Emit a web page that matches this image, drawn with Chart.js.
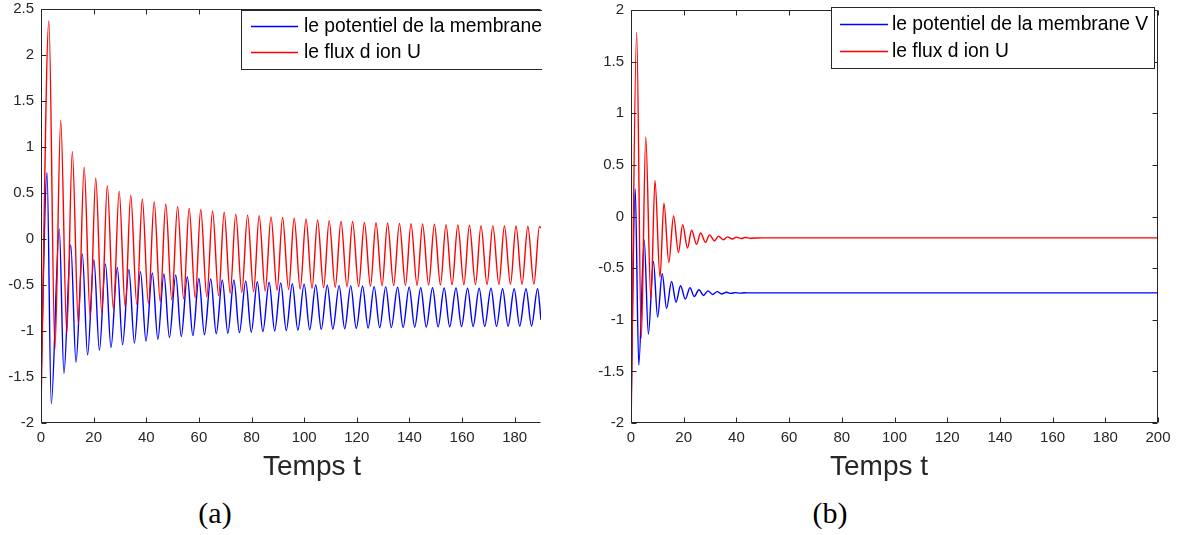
<!DOCTYPE html>
<html>
<head>
<meta charset="utf-8">
<script src="https://cdn.jsdelivr.net/npm/chart.js@4.4.1/dist/chart.umd.min.js"></script>
<style>
  body { margin: 0; background: #fff; width: 1178px; height: 535px; position: relative; overflow: hidden; }
  canvas { position: absolute; top: 0; }
  #chartA { left: 0; }
  #chartB { left: 590px; }
  .cap { position: absolute; top: 496px; font-family: "Liberation Serif", "DejaVu Serif", serif; font-size: 30px; color: #000; transform: translateX(-50%); }
</style>
</head>
<body>
<canvas id="chartA" width="542" height="490"></canvas>
<canvas id="chartB" width="582" height="490"></canvas>
<div class="cap" style="left:215px">(a)</div>
<div class="cap" style="left:830px">(b)</div>
<script>
// labels
const labelV = "le potentiel de la membrane V";
const labelU = "le flux d ion U";
const xTitle = "Temps t";

// tick positions
const xTicksA = [0, 20, 40, 60, 80, 100, 120, 140, 160, 180];
const xTicksB = [0, 20, 40, 60, 80, 100, 120, 140, 160, 180, 200];
const yTicksA = [-2, -1.5, -1, -0.5, 0, 0.5, 1, 1.5, 2, 2.5];
const yTicksB = [-2, -1.5, -1, -0.5, 0, 0.5, 1, 1.5, 2];

// (a) - sustained oscillations, extremes
const tU_a = [0, 3.0, 5.3, 7.5, 9.8, 11.9, 14.2, 16.4, 18.7, 20.8, 23.1, 25.2, 27.5, 29.7, 32.0, 34.1, 36.4, 38.5, 40.8,
  43.0, 45.3, 47.4, 49.7, 51.9, 54.2, 56.3, 58.6, 60.7, 63.0, 65.2, 67.5, 69.6, 71.9, 74.0, 76.3, 78.5, 80.8, 82.9, 85.2,
  87.4, 89.7, 91.8, 94.1, 96.2, 98.5, 100.7, 103.0, 105.1, 107.4, 109.5, 111.8, 114.0, 116.3, 118.4, 120.7, 122.9, 125.2,
  127.3, 129.6, 131.7, 134.0, 136.2, 138.5, 140.6, 142.9, 145.0, 147.3, 149.5, 151.8, 153.9, 156.2, 158.4, 160.7, 162.8,
  165.1, 167.2, 169.5, 171.7, 174.0, 176.1, 178.4, 180.5, 182.8, 185.0, 187.3, 189.4, 190];
const U_a = [-1.85, 2.37, -1.20, 1.29, -1.025, 0.95, -0.92, 0.78, -0.845, 0.66, -0.80, 0.58, -0.765, 0.52, -0.74, 0.475, -0.71, 0.435, -0.70,
  0.405, -0.68, 0.38, -0.66, 0.355, -0.65, 0.335, -0.64, 0.32, -0.627, 0.305, -0.616, 0.29, -0.59, 0.27, -0.58, 0.26, -0.573, 0.253, -0.565,
  0.24, -0.558, 0.235, -0.55, 0.225, -0.543, 0.217, -0.536, 0.207, -0.53, 0.2, -0.525, 0.19, -0.52, 0.19, -0.518, 0.18, -0.514,
  0.177, -0.51, 0.174, -0.507, 0.17, -0.504, 0.166, -0.502, 0.163, -0.5, 0.16, -0.499, 0.156, -0.498, 0.152, -0.497, 0.149,
  -0.496, 0.145, -0.495, 0.145, -0.494, 0.141, -0.493, 0.141, -0.492, 0.138, -0.491, 0.134, 0.12];

const tV_a = [0, 2.3, 3.9, 6.95, 8.7, 11.3, 13.3, 15.7, 17.7, 20.1, 22.2, 24.5, 26.6, 29.0, 31.0, 33.4, 35.5, 37.8, 39.9,
  42.3, 44.4, 46.7, 48.8, 51.2, 53.3, 55.6, 57.7, 60.0, 62.1, 64.5, 66.6, 68.9, 71.0, 73.3, 75.4, 77.8, 79.9, 82.2, 84.3,
  86.7, 88.8, 91.1, 93.2, 95.5, 97.6, 100.0, 102.1, 104.4, 106.5, 108.8, 110.9, 113.3, 115.4, 117.7, 119.8, 122.2, 124.3,
  126.6, 128.7, 131.0, 133.1, 135.5, 137.6, 139.9, 142.0, 144.3, 146.4, 148.8, 150.9, 153.2, 155.3, 157.7, 159.8, 162.1,
  164.2, 166.5, 168.6, 171.0, 173.1, 175.4, 177.5, 179.8, 181.9, 184.3, 186.4, 188.7, 190];
const V_a = [-1.5, 0.72, -1.79, 0.11, -1.46, -0.065, -1.34, -0.163, -1.26, -0.225, -1.21, -0.27, -1.18, -0.31, -1.15, -0.33, -1.13, -0.355, -1.11,
  -0.37, -1.09, -0.38, -1.07, -0.39, -1.06, -0.41, -1.05, -0.43, -1.04, -0.435, -1.03, -0.445, -1.025, -0.446, -1.018, -0.457, -1.014, -0.464, -1.007,
  -0.47, -1.0, -0.478, -0.996, -0.486, -0.99, -0.49, -0.986, -0.5, -0.982, -0.503, -0.978, -0.507, -0.975, -0.51, -0.971, -0.514, -0.967,
  -0.518, -0.965, -0.52, -0.963, -0.525, -0.961, -0.525, -0.959, -0.53, -0.957, -0.53, -0.955, -0.533, -0.954, -0.533, -0.952, -0.536,
  -0.951, -0.536, -0.95, -0.536, -0.949, -0.54, -0.948, -0.54, -0.947, -0.54, -0.946, -0.54, -0.88];

// (b) - damped oscillations towards the equilibrium
const tU_b = [0, 2.15, 3.9, 5.6, 7.55, 9.1, 11.0, 12.5, 14.35, 16.15, 18.0, 19.6, 21.45, 23.0, 24.9, 26.4, 28.3, 29.8,
  31.7, 33.2, 35.1, 36.6, 38.5, 40.0, 41.9, 43.4, 45.3, 50, 200];
const U_b = [-2.1, 1.785, -1.18, 0.77, -0.805, 0.35, -0.59, 0.13, -0.445, 0.005, -0.35, -0.08, -0.305, -0.133, -0.27, -0.16, -0.25, -0.178,
  -0.235, -0.19, -0.225, -0.197, -0.218, -0.2, -0.213, -0.204, -0.21, -0.207, -0.207];

const tV_b = [0, 1.6, 2.95, 5.0, 6.6, 8.5, 10.1, 11.85, 13.5, 15.4, 17.1, 18.8, 20.6, 22.4, 24.0, 25.8, 27.5, 29.2,
  31.0, 32.7, 34.4, 36.2, 37.9, 39.6, 41.4, 43.1, 45, 200];
const V_b = [-1.9, 0.27, -1.44, -0.226, -1.14, -0.435, -0.975, -0.555, -0.89, -0.63, -0.83, -0.67, -0.80, -0.69, -0.775, -0.71, -0.765, -0.72,
  -0.755, -0.728, -0.75, -0.733, -0.745, -0.737, -0.742, -0.739, -0.74, -0.74];

const FONT = '"Liberation Sans", Arial, sans-serif';
const INK = "#262626";

const pts = (ts, vs) => ts.map((t, i) => ({ x: t, y: vs[i] }));
const fmt = v => String(+Number(v).toFixed(2));

// matlab-like box, inward ticks, legend and x label
const matlabAxes = {
  id: "matlabAxes",
  afterDatasetsDraw(chart, args, o) {
    const { ctx, chartArea: a } = chart;
    const xs = chart.scales.x, ys = chart.scales.y;
    const L = Math.round(a.left) + 0.5, R = Math.round(a.right) - 0.5;
    const T = Math.round(a.top) + 0.5, B = Math.round(a.bottom) - 0.5;
    ctx.save();
    ctx.strokeStyle = INK;
    ctx.lineWidth = 1;
    ctx.beginPath();
    ctx.moveTo(R, T); ctx.lineTo(L, T); ctx.lineTo(L, B); ctx.lineTo(R, B);
    if (o.rightSide) { ctx.moveTo(R, T); ctx.lineTo(R, B); }
    xs.ticks.forEach(t => {
      const px = Math.round(xs.getPixelForValue(t.value)) + 0.5;
      ctx.moveTo(px, B); ctx.lineTo(px, B - 5);
      ctx.moveTo(px, T); ctx.lineTo(px, T + 5);
    });
    ys.ticks.forEach(t => {
      const py = Math.round(ys.getPixelForValue(t.value)) + 0.5;
      ctx.moveTo(L, py); ctx.lineTo(L + 5, py);
      if (o.rightSide) { ctx.moveTo(R, py); ctx.lineTo(R - 5, py); }
    });
    ctx.stroke();

    // x label
    ctx.fillStyle = INK;
    ctx.font = "28px " + FONT;
    ctx.textAlign = "center";
    ctx.textBaseline = "middle";
    ctx.fillText(xTitle, o.titleX, 467);

    // legend
    const lg = o.legend;
    ctx.fillStyle = "#fff";
    ctx.fillRect(lg.left, lg.top, lg.right - lg.left, lg.bottom - lg.top);
    ctx.strokeStyle = INK;
    ctx.strokeRect(lg.left + 0.5, lg.top + 0.5, lg.right - lg.left - 1, lg.bottom - lg.top - 1);
    ctx.font = "19.3px " + FONT;
    ctx.textAlign = "left";
    chart.data.datasets.forEach((ds, i) => {
      const y = lg.rows[i];
      ctx.strokeStyle = ds.borderColor;
      ctx.lineWidth = 1.3;
      ctx.beginPath();
      ctx.moveTo(lg.lineX0, y + 0.5); ctx.lineTo(lg.lineX1, y + 0.5);
      ctx.stroke();
      ctx.fillStyle = "#000";
      ctx.fillText(ds.label, lg.textX, y + 1);
    });
    ctx.restore();
  }
};

function makeChart(id, U, V, xMax, yMax, xTicks, yTicks, padRight, padTop, extra) {
  return new Chart(document.getElementById(id), {
    type: "line",
    data: {
      datasets: [
        { label: labelV, data: V, borderColor: "#0000ff", borderWidth: 1.4, pointRadius: 0,
          cubicInterpolationMode: "monotone", fill: false, order: 1 },
        { label: labelU, data: U, borderColor: "#ff0000", borderWidth: 1.4, pointRadius: 0,
          cubicInterpolationMode: "monotone", fill: false, order: 0 },
      ],
    },
    options: {
      responsive: false,
      animation: false,
      layout: { padding: { top: padTop, right: padRight, left: 0, bottom: 0 } },
      plugins: { legend: { display: false }, tooltip: { enabled: false }, matlabAxes: extra },
      scales: {
        x: {
          type: "linear", min: 0, max: xMax,
          afterBuildTicks: s => { s.ticks = xTicks.map(v => ({ value: v })); },
          afterFit: s => { s.height = 67; s.paddingLeft = 0; s.paddingRight = 0; },
          grid: { display: false, drawTicks: false },
          border: { display: false },
          ticks: { maxRotation: 0, autoSkip: false, padding: 6, color: INK, font: { family: FONT, size: 15 }, callback: fmt },
        },
        y: {
          min: -2, max: yMax,
          afterBuildTicks: s => { s.ticks = yTicks.map(v => ({ value: v })); },
          afterFit: s => { s.width = 41; s.paddingTop = 0; s.paddingBottom = 0; },
          grid: { display: false, drawTicks: false },
          border: { display: false },
          ticks: { padding: 7, color: INK, font: { family: FONT, size: 15 }, callback: fmt },
        },
      },
    },
    plugins: [matlabAxes],
  });
}

makeChart("chartA", pts(tU_a, U_a), pts(tV_a, V_a), 190, 2.5, xTicksA, yTicksA, 1, 9, {
  rightSide: false, titleX: 312,
  legend: { left: 241, top: 10, right: 620, bottom: 70, rows: [26, 52], lineX0: 251, lineX1: 298, textX: 304 },
});
makeChart("chartB", pts(tU_b, U_b), pts(tV_b, V_b), 200, 2, xTicksB, yTicksB, 14, 10, {
  rightSide: true, titleX: 289,
  legend: { left: 241, top: 7, right: 565, bottom: 69, rows: [24, 51], lineX0: 250, lineX1: 298, textX: 302 },
});
</script>
</body>
</html>
